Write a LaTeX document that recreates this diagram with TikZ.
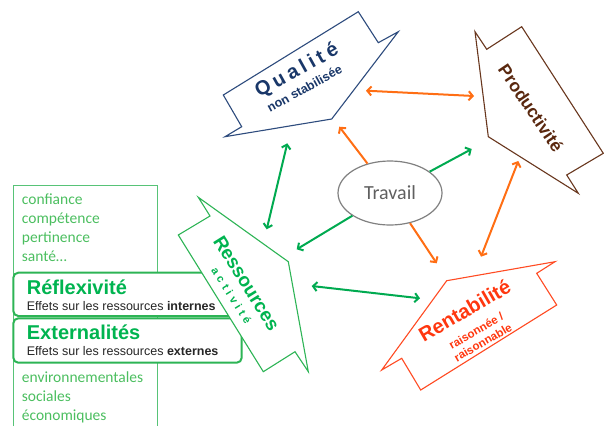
\documentclass[tikz,border=0pt]{standalone}
\usepackage{fontspec}
\setmainfont{Liberation Sans}
\newfontfamily\carlito{Carlito}
\usetikzlibrary{arrows.meta,shapes.geometric}
\definecolor{qualline}{RGB}{45,75,125}
\definecolor{qualtext}{RGB}{25,55,105}
\definecolor{prodline}{RGB}{105,55,30}
\definecolor{prodtext}{RGB}{90,40,15}
\definecolor{rentline}{RGB}{255,75,35}
\definecolor{renttext}{RGB}{255,55,15}
\definecolor{ressline}{RGB}{45,180,85}
\definecolor{resstext}{RGB}{0,180,80}
\definecolor{listtext}{RGB}{75,190,95}
\definecolor{arrorange}{RGB}{255,110,20}
\definecolor{arrgreen}{RGB}{0,170,80}
\definecolor{travgray}{RGB}{95,95,95}
\begin{document}
\begin{tikzpicture}[x=1pt,y=-1pt,
    >={Straight Barb[length=4pt,width=9pt]},
    orarrow/.style={draw=arrorange,line width=2pt},
    grarrow/.style={draw=arrgreen,line width=2pt},
    listitem/.style={anchor=base west,inner sep=0,text=listtext,font=\carlito\fontsize{15.5}{18}\selectfont},
    boxtitle/.style={anchor=base west,inner sep=0,text=resstext,font=\bfseries\fontsize{20}{22}\selectfont},
    boxline/.style={anchor=base west,inner sep=0,text=black!85,font=\fontsize{12.5}{14}\selectfont},
    tagbox/.style={draw=ressline,line width=2pt,rounded corners=5pt,fill=white}]
  \useasboundingbox (0,0) rectangle (604,426);
  % left panel
  \draw[ressline!80,line width=0.8pt] (13.3,426) -- (13.3,185) -- (157.7,185) -- (157.7,426);
  \node[listitem] (l1) at (21.7,204.5) {confiance};
  \node[listitem] (l2) at (21.7,223.5) {compétence};
  \node[listitem] (l3) at (21.7,242.5) {pertinence};
  \node[listitem] (l4) at (21.7,261.5) {santé…};
  \node[listitem] (l5) at (21.7,382) {environnementales};
  \node[listitem] (l6) at (21.7,401) {sociales};
  \node[listitem] (l7) at (21.7,420) {économiques};
  \draw[tagbox] (13.3,272.7) rectangle (241.7,316);
  \draw[tagbox] (13.3,318.3) rectangle (241.7,362.7);
  \node[boxtitle] (refl) at (26.7,294) {Réflexivité};
  \node[boxline] (reflx) at (26.7,310.7) {Effets sur les ressources \textbf{internes}};
  \node[boxtitle] (ext) at (26.7,339.3) {Externalités};
  \node[boxline] (extx) at (26.7,355.7) {Effets sur les ressources \textbf{externes}};
  % tags
  \draw[qualline,line width=1.1pt,fill=white] (223.3,95) -- (358.3,11.7) -- (378.3,42.7) -- (398.3,31.7)
    -- (331.7,119) -- (225,136.7) -- (241.7,126.7) -- cycle;
  \draw[prodline,line width=1.1pt,fill=white] (475,31.7) -- (486.7,49.3) -- (521.7,26.7) -- (603.3,153.3)
    -- (566.7,175) -- (578.3,193.3) -- (488.3,136.7) -- cycle;
  \draw[rentline,line width=1.1pt,fill=white] (381.7,370) -- (446.7,280.7) -- (555,261.7) -- (536.7,273.3)
    -- (556.7,305) -- (420.7,390) -- (401.7,358.3) -- cycle;
  \draw[ressline,line width=1.1pt,fill=white] (198.3,197.3) -- (210,216) -- (178.3,235) -- (263.3,371.7)
    -- (295,351.7) -- (308.3,371.7) -- (288.3,261.7) -- cycle;
  \node[rotate=29,text=qualtext,font=\bfseries\fontsize{20}{22}\selectfont\addfontfeature{LetterSpace=20}] (qual) at (297,71) {Qualité};
  \node[rotate=29,text=qualtext,font=\bfseries\fontsize{12.5}{14}\selectfont] (qualx) at (304.5,88.5) {non stabilisée};
  \node[rotate=-56,text=prodtext,font=\bfseries\fontsize{17.5}{19}\selectfont] (prod) at (531,108.3) {Productivité};
  \node[rotate=30,text=renttext,font=\bfseries\fontsize{20}{22}\selectfont] (rent) at (464.5,310.5) {Rentabilité};
  \node[rotate=30,text=renttext,font=\bfseries\fontsize{11.5}{13.5}\selectfont,align=center] (rentx) at (479.5,336.5) {raisonnée /\\raisonnable};
  \node[rotate=-58,text=resstext,font=\bfseries\fontsize{19}{21}\selectfont] (ress) at (246.7,283.3) {Ressources};
  \node[rotate=-58,text=resstext,font=\bfseries\fontsize{11}{13}\selectfont\addfontfeature{LetterSpace=35}] (ressx) at (231.5,295.5) {activité};
  % centre
  \node[draw=black!50,line width=1.2pt,ellipse,minimum width=104pt,minimum height=64pt,inner sep=0,
    text=travgray,font=\carlito\fontsize{20}{22}\selectfont] (travail) at (390,193) {Travail};
  \coordinate (tq) at (339.3,126.7);
  \coordinate (tp) at (471.7,149);
  \coordinate (tr) at (296.7,249.3);
  \coordinate (tn) at (436.7,263.3);
  \coordinate (qp1) at (366,90.7);
  \coordinate (qp2) at (474,96);
  \coordinate (pn1) at (518.3,161);
  \coordinate (pn2) at (481,256.7);
  \coordinate (qr1) at (287.3,143.3);
  \coordinate (qr2) at (266.7,229.3);
  \coordinate (rn1) at (311.7,286);
  \coordinate (rn2) at (420,298.3);
  \draw[orarrow,->] (travail) -- (tq);
  \draw[orarrow,->] (travail) -- (tn);
  \draw[grarrow,->] (travail) -- (tp);
  \draw[grarrow,->] (travail) -- (tr);
  \draw[orarrow,<->] (qp1) -- (qp2);
  \draw[orarrow,<->] (pn1) -- (pn2);
  \draw[grarrow,<->] (qr1) -- (qr2);
  \draw[grarrow,<->] (rn1) -- (rn2);
\end{tikzpicture}
\end{document}
